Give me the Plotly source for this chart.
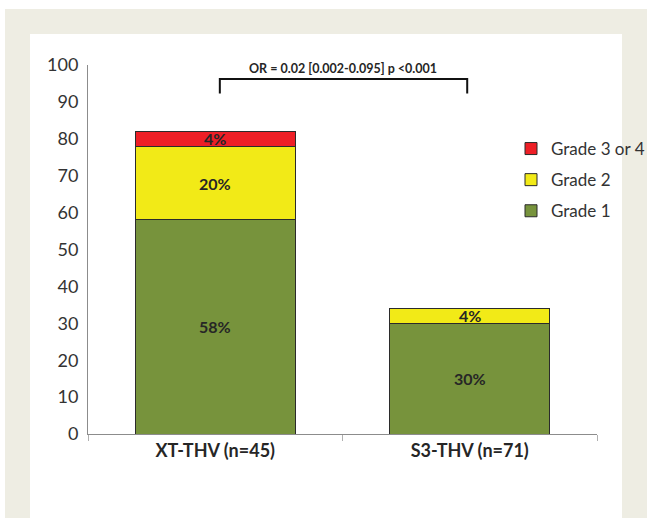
import plotly.graph_objects as go

categories = ["XT-THV (n=45)", "S3-THV (n=71)"]
grade1 = [58, 30]
grade2 = [20, 4]
grade3_4 = [4, 0]
series_names = ["Grade 1", "Grade 2", "Grade 3 or 4"]
series_colors = ["#77933c", "#f2ea17", "#ee1f26"]
legend_ranks = [3, 2, 1]
y_ticks = [0, 10, 20, 30, 40, 50, 60, 70, 80, 90, 100]
stat_text = "OR = 0.02 [0.002-0.095] p <0.001"

FONT = "Lato, Open Sans, sans-serif"
TXT = "#333333"

# plot-area pixel geometry (for converting page decorations to paper coords)
L, R, T, B = 88, 59, 65, 84
W, H = 656, 518
pw, ph = W - L - R, H - T - B


def px_x(x):
    return (x - L) / pw


def px_y(y):
    return (H - B - y) / ph


fig = go.Figure()
all_series = [grade1, grade2, grade3_4]
for name, vals, col, rk in zip(series_names, all_series, series_colors, legend_ranks):
    fig.add_trace(go.Bar(
        x=categories, y=vals, name=name,
        marker=dict(color=col, line=dict(color="#2b2b2b", width=1)),
        legendgroup=name, legendrank=rk,
    ))

# data labels
annotations = []
for ci, cat in enumerate(categories):
    base = 0
    for vals in all_series:
        v = vals[ci]
        if v > 0:
            annotations.append(dict(
                x=cat, y=base + v / 2, xref="x", yref="y",
                text=f"<b>{v}%</b>", showarrow=False,
                font=dict(family=FONT, size=16, color="#262626"),
            ))
        base += v

# significance text
annotations.append(dict(
    x=0.5, y=px_y(59), xref="x", yref="paper", text=f"<b>{stat_text}</b>",
    showarrow=False, font=dict(family=FONT, size=12.5, color="#262626"),
))

shapes = [
    # beige frame
    dict(type="rect", xref="paper", yref="paper", layer="below",
         x0=px_x(5), x1=px_x(647), y0=px_y(518), y1=px_y(9),
         fillcolor="#eeede3", line=dict(width=0)),
    dict(type="rect", xref="paper", yref="paper", layer="below",
         x0=px_x(30), x1=px_x(622), y0=px_y(518), y1=px_y(34),
         fillcolor="#ffffff", line=dict(width=0)),
    # bracket
    dict(type="path", xref="x", yref="y",
         path="M 0.018,92.3 L 0.018,96.2 L 0.99,96.2 L 0.99,92.3",
         line=dict(color="#111111", width=2)),
]

fig.update_layout(
    width=W, height=H,
    margin=dict(l=L, r=R, t=T, b=B, autoexpand=False),
    paper_bgcolor="#ffffff",
    plot_bgcolor="rgba(0,0,0,0)",
    barmode="stack",
    bargap=0.373,
    font=dict(family=FONT, size=18, color=TXT),
    showlegend=True,
    legend=dict(
        x=px_x(511), y=px_y(131), xanchor="left", yanchor="top",
        traceorder="grouped", tracegroupgap=6,
        bgcolor="rgba(0,0,0,0)",
        font=dict(family=FONT, size=17, color=TXT),
    ),
    annotations=annotations,
    shapes=shapes,
    xaxis=dict(
        type="category", range=[-0.5, 1.5],
        showline=True, linecolor="#8c8c8c", linewidth=1,
        ticks="outside", tickson="boundaries", ticklen=6, tickcolor="#b0b0b0",
        tickfont=dict(family=FONT, size=18, color="#262626", weight="bold"),
        showgrid=False, zeroline=False,
    ),
    yaxis=dict(
        range=[0, 100], tickvals=y_ticks,
        showline=True, linecolor="#8c8c8c", linewidth=1,
        ticks="", showgrid=False, zeroline=False, ticklabelstandoff=5,
        tickfont=dict(family=FONT, size=18, color=TXT),
    ),
)

fig.write_html("out.html", config={"displayModeBar": False},
               post_script="document.body.style.margin='0';")
